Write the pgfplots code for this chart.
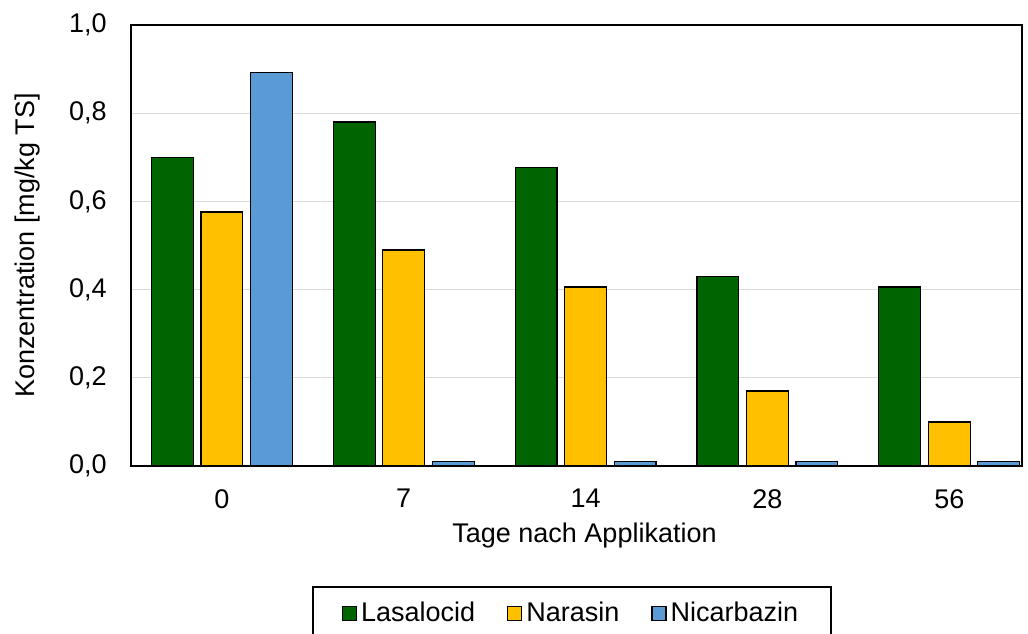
\documentclass[border=0pt]{standalone}
\usepackage{pgfplots}
\pgfplotsset{compat=1.18}
\usepackage{fontspec}
\setmainfont{Liberation Sans}
\definecolor{las}{HTML}{006400}
\definecolor{nar}{HTML}{FFC000}
\definecolor{nic}{HTML}{5B9BD5}
\definecolor{gridc}{HTML}{D9D9D9}
\begin{document}
\fontsize{13.5pt}{16pt}\selectfont
\begin{tikzpicture}
\useasboundingbox (-65.5pt,-83.5pt) rectangle (448.5pt,233pt);
\begin{axis}[
  scale only axis,
  width=445.5pt, height=220.5pt,
  xmin=-0.5, xmax=4.4,
  ymin=0, ymax=1.0,
  xtick={0,1,2,3,4},
  xticklabels={0,7,14,28,56},
  ytick={0,0.2,0.4,0.6,0.8,1.0},
  ymajorgrids,
  grid style={gridc, line width=0.6pt},
  major tick length=0pt,
  axis line style={black, line width=0.8pt},
  tick label style={font=\fontsize{13.5pt}{16pt}\selectfont},
  label style={font=\fontsize{13.5pt}{16pt}\selectfont},
  /pgf/number format/assume math mode=true,
  yticklabel style={/pgf/number format/.cd, use comma, fixed, fixed zerofill, precision=1},
  yticklabel shift=7.5pt,
  xticklabel shift=7pt,
  xlabel={Tage nach Applikation},
  ylabel={Konzentration [mg/kg TS]},
  xlabel style={at={(axis description cs:0.509,0)}, anchor=center, yshift=-35pt},
  ylabel style={at={(axis description cs:-0.116,0.5)}, anchor=center},
  bar width=0.23,
  legend columns=3,
  legend style={at={(0.495,-60pt)}, anchor=north, draw=black, line width=0.8pt,
    font=\fontsize{13.5pt}{16pt}\selectfont,
    inner xsep=14.5pt, inner ysep=5.5pt,
    /tikz/every even column/.append style={column sep=14pt}},
  legend image code/.code={\draw[#1, line width=0.6pt] (0pt,-3.5pt) rectangle (7pt,3.5pt);},
]
\addplot[ybar, bar shift=-0.272, fill=las, draw=black, line width=0.6pt] coordinates {(0,0.700) (1,0.780) (2,0.676) (3,0.430) (4,0.406)};
\addplot[ybar, bar shift=0, fill=nar, draw=black, line width=0.6pt] coordinates {(0,0.576) (1,0.490) (2,0.406) (3,0.170) (4,0.100)};
\addplot[ybar, bar shift=0.272, fill=nic, draw=black, line width=0.6pt] coordinates {(0,0.893) (1,0.010) (2,0.010) (3,0.010) (4,0.010)};
\legend{Lasalocid,Narasin,Nicarbazin}
\end{axis}
\end{tikzpicture}
\end{document}
